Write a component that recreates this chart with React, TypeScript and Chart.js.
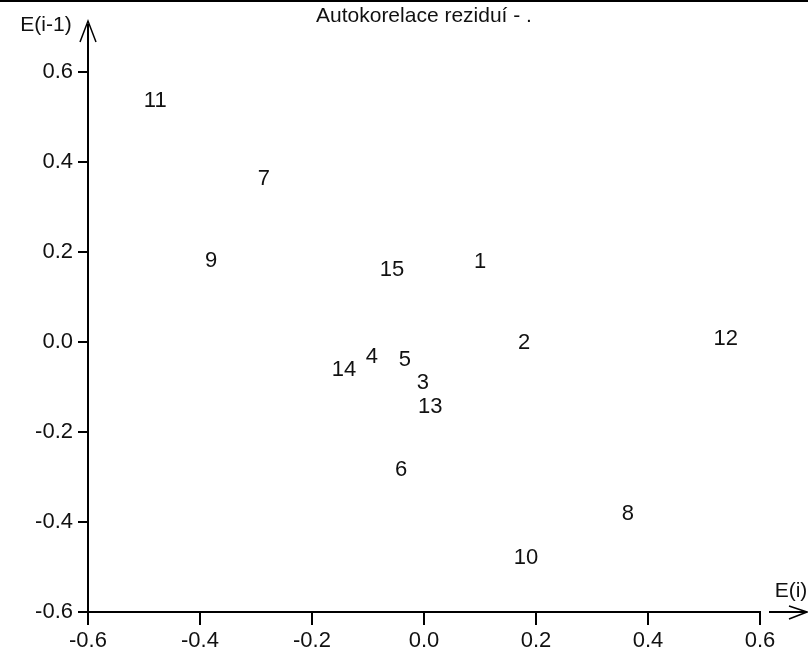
import React, { useEffect, useRef } from "react";
import { Chart, registerables } from "chart.js";

Chart.register(...registerables);

// Residual autocorrelation: E(i) against E(i-1), each point labelled by its index
const pointLabels = ["1", "2", "3", "4", "5", "6", "7", "8", "9", "10", "11", "12", "13", "14", "15"];
const residualI = [0.1, 0.179, -0.002, -0.093, -0.034, -0.041, -0.286, 0.364, -0.38, 0.182, -0.48, 0.539, 0.011, -0.143, -0.057];
const residualPrev = [0.177, -0.003, -0.092, -0.034, -0.04, -0.285, 0.362, -0.381, 0.18, -0.479, 0.535, 0.006, -0.145, -0.061, 0.16];

const titleText = "Autokorelace reziduí - .";
const xAxisName = "E(i)";
const yAxisName = "E(i-1)";
const axisMin = -0.6;
const axisMax = 0.6;
const axisStep = 0.2;

const FONT = "'Liberation Sans', Arial, sans-serif";

const fmt = (v: number) => (Math.abs(v) < 1e-9 ? "0.0" : v.toFixed(1));

const decorPlugin = {
  id: "decor",
  afterDraw(chart: any) {
    const { ctx, chartArea } = chart;
    const { left, right, top, bottom } = chartArea;
    ctx.save();
    // frame line along the top edge
    ctx.fillStyle = "#000";
    ctx.fillRect(0, 0, chart.width, 2);

    ctx.strokeStyle = "#000";
    ctx.lineWidth = 2;
    // vertical axis arrow
    ctx.beginPath();
    ctx.moveTo(left, top);
    ctx.lineTo(left, 24);
    ctx.stroke();
    ctx.lineWidth = 1.5;
    ctx.beginPath();
    ctx.moveTo(left - 8, 42);
    ctx.lineTo(left, 21);
    ctx.lineTo(left + 8, 42);
    ctx.stroke();

    // horizontal axis arrow
    ctx.lineWidth = 2;
    ctx.beginPath();
    ctx.moveTo(right + 9, bottom);
    ctx.lineTo(chart.width - 1, bottom);
    ctx.stroke();
    ctx.lineWidth = 1.5;
    ctx.beginPath();
    ctx.moveTo(789, bottom - 6);
    ctx.lineTo(chart.width - 1, bottom);
    ctx.lineTo(789, bottom + 7);
    ctx.stroke();

    // texts
    ctx.fillStyle = "#111";
    ctx.font = `21px ${FONT}`;
    ctx.textAlign = "left";
    ctx.textBaseline = "alphabetic";
    ctx.fillText(titleText, 316, 22);

    ctx.textAlign = "center";
    ctx.textBaseline = "middle";
    ctx.fillText(yAxisName, 46, 25);
    ctx.fillText(xAxisName, 791, 591);

    // index labels at each point
    ctx.font = `22px ${FONT}`;
    const meta = chart.getDatasetMeta(0);
    meta.data.forEach((el: any, i: number) => {
      ctx.fillText(pointLabels[i], el.x, el.y);
    });
    ctx.restore();
  },
};

export default function App() {
  const ref = useRef<HTMLCanvasElement | null>(null);

  useEffect(() => {
    if (!ref.current) return;
    const chart = new Chart(ref.current, {
      type: "scatter",
      data: {
        datasets: [
          {
            data: residualI.map((x, i) => ({ x, y: residualPrev[i] })),
            pointRadius: 0,
            pointHoverRadius: 0,
          },
        ],
      },
      options: {
        responsive: false,
        animation: false,
        events: [],
        layout: { padding: { top: 72, right: 48, left: 0, bottom: 0 } },
        plugins: { legend: { display: false }, title: { display: false }, tooltip: { enabled: false } },
        scales: {
          x: {
            type: "linear",
            min: axisMin,
            max: axisMax,
            afterFit(scale: any) {
              scale.height = 42;
            },
            ticks: {
              stepSize: axisStep,
              color: "#111",
              font: { family: FONT, size: 22 },
              padding: 3,
              maxRotation: 0,
              callback: (v: any) => fmt(Number(v)),
            },
            grid: { display: true, drawOnChartArea: false, drawTicks: true, tickLength: 13, color: "#000", lineWidth: 2 },
            border: { display: true, color: "#000", width: 2 },
          },
          y: {
            type: "linear",
            min: axisMin,
            max: axisMax,
            afterFit(scale: any) {
              scale.width = 88;
            },
            ticks: {
              stepSize: axisStep,
              color: "#111",
              font: { family: FONT, size: 22 },
              padding: 5,
              callback: (v: any) => fmt(Number(v)),
            },
            grid: { display: true, drawOnChartArea: false, drawTicks: true, tickLength: 10, color: "#000", lineWidth: 2 },
            border: { display: true, color: "#000", width: 2 },
          },
        },
      },
      plugins: [decorPlugin],
    });
    return () => chart.destroy();
  }, []);

  return (
    <div style={{ position: "absolute", left: 0, top: 0, width: 808, height: 654, background: "#fff" }}>
      <canvas ref={ref} width={808} height={654} style={{ display: "block" }} />
    </div>
  );
}
